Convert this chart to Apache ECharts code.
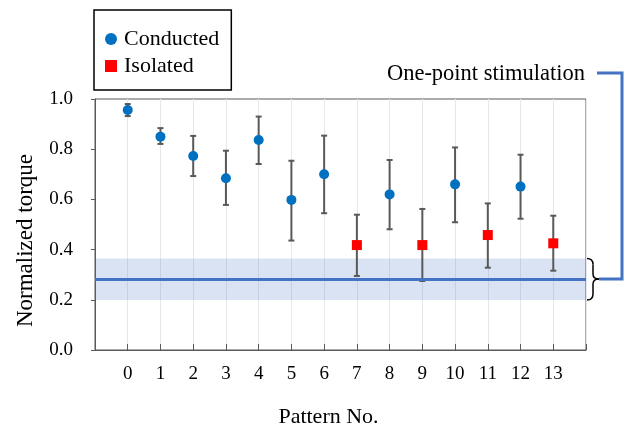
<!DOCTYPE html>
<html><head><meta charset="utf-8">
<script src="https://cdn.jsdelivr.net/npm/echarts@6/dist/echarts.min.js"></script>
<style>html,body{margin:0;padding:0;background:#fff}#c{width:627px;height:428px}</style>
</head><body><div id="c"></div>
<script>
var patterns = [0,1,2,3,4,5,6,7,8,9,10,11,12,13];
var xTickLabels = ['0','1','2','3','4','5','6','7','8','9','10','11','12','13'];
var conductedX = [0,1,2,3,4,5,6,8,10,12];
var conductedMean = [0.956,0.850,0.773,0.684,0.837,0.598,0.700,0.620,0.660,0.651];
var conductedLow  = [0.932,0.821,0.693,0.578,0.741,0.436,0.545,0.481,0.509,0.523];
var conductedHigh = [0.980,0.884,0.853,0.794,0.930,0.754,0.854,0.757,0.807,0.778];
var isolatedX = [7,9,11,13];
var isolatedMean = [0.418,0.418,0.458,0.425];
var isolatedLow  = [0.295,0.275,0.328,0.316];
var isolatedHigh = [0.539,0.562,0.584,0.535];
var onePointMean = 0.283;
var onePointLow = 0.199;
var onePointHigh = 0.365;

var FONT = 'Liberation Serif';
var chart = echarts.init(document.getElementById('c'), null, {renderer:'canvas'});

var errData = [];
conductedX.forEach(function(x,i){ errData.push([x, conductedLow[i], conductedHigh[i]]); });
isolatedX.forEach(function(x,i){ errData.push([x, isolatedLow[i], isolatedHigh[i]]); });

var option = {
  animation:false,
  grid:{left:95, right:41, top:99, bottom:78, show:true, borderColor:'#595959', borderWidth:1,
        containLabel:false, outerBoundsMode:'none'},
  legend:{
    left:94, top:10, orient:'vertical',
    padding:[18,12,13,11], itemGap:5,
    borderColor:'#000', borderWidth:1.5,
    itemWidth:12, itemHeight:12,
    textStyle:{fontFamily:FONT, fontSize:22, color:'#000', padding:[0,0,0,2]},
    data:[{name:'Conducted', icon:'circle'},{name:'Isolated', icon:'rect'}]
  },
  xAxis:{
    type:'value', min:-1, max:14, interval:1,
    name:'Pattern No.', nameLocation:'middle', nameGap:56,
    nameTextStyle:{fontFamily:FONT, fontSize:22, color:'#000', padding:[0,24,0,0]},
    axisLine:{show:true, onZero:false, lineStyle:{color:'#595959', width:1}},
    axisTick:{show:true, inside:true, length:6, lineStyle:{color:'#595959'}},
    axisLabel:{fontFamily:FONT, fontSize:19, color:'#000', margin:15,
      formatter:function(v){ var i = patterns.indexOf(v); return i>=0 ? xTickLabels[i] : ''; }},
    splitLine:{show:true, lineStyle:{color:'#e6e6ec', width:1}}
  },
  yAxis:{
    type:'value', min:0, max:1.0, interval:0.2,
    name:'Normalized torque', nameLocation:'middle', nameGap:58, nameRotate:90,
    nameTextStyle:{fontFamily:FONT, fontSize:23, color:'#000', padding:[0,32,0,0]},
    axisLine:{show:true, onZero:false, lineStyle:{color:'#595959', width:1}},
    axisTick:{show:true, inside:false, length:4, lineStyle:{color:'#595959'}},
    axisLabel:{fontFamily:FONT, fontSize:19, color:'#000', margin:22,
      formatter:function(v){ return v.toFixed(1); }},
    splitLine:{show:false}
  },
  series:[
    {
      type:'line', data:[], silent:true, z:1,
      markArea:{silent:true, itemStyle:{color:'rgba(68,114,196,0.2)'},
        data:[[{yAxis:onePointLow},{yAxis:onePointHigh}]]},
      markLine:{silent:true, symbol:['none','none'], label:{show:false},
        lineStyle:{color:'#4472C4', width:3, type:'solid'},
        data:[{yAxis:onePointMean}]}
    },
    {
      type:'custom', z:3, silent:true,
      data: errData,
      renderItem:function(params, api){
        var p1 = api.coord([api.value(0), api.value(1)]);
        var p2 = api.coord([api.value(0), api.value(2)]);
        var cw = 3;
        var st = {stroke:'#595959', lineWidth:2};
        return {type:'group', children:[
          {type:'line', shape:{x1:p1[0],y1:p1[1],x2:p2[0],y2:p2[1]}, style:st},
          {type:'line', shape:{x1:p1[0]-cw,y1:p1[1],x2:p1[0]+cw,y2:p1[1]}, style:st},
          {type:'line', shape:{x1:p2[0]-cw,y1:p2[1],x2:p2[0]+cw,y2:p2[1]}, style:st}
        ]};
      }
    },
    {
      name:'Conducted', type:'scatter', z:5, symbol:'circle', symbolSize:10,
      itemStyle:{color:'#0070C0', opacity:1},
      data: conductedX.map(function(x,i){ return [x, conductedMean[i]]; })
    },
    {
      name:'Isolated', type:'scatter', z:5, symbol:'rect', symbolSize:10,
      itemStyle:{color:'#FF0000', opacity:1},
      data: isolatedX.map(function(x,i){ return [x, isolatedMean[i]]; })
    }
  ]
};
chart.setOption(option);

// annotation: brace + connector to label, positioned from the band values
var pt = chart.convertToPixel({gridIndex:0}, [14, onePointHigh]);
var pb = chart.convertToPixel({gridIndex:0}, [14, onePointLow]);
var pm = chart.convertToPixel({gridIndex:0}, [14, onePointMean]);
var bx = pt[0] + 1, bt = pt[1], bb = pb[1], bm = pm[1];
var w = 12, h = w/2;
var bs = {fill:null, stroke:'#000', lineWidth:1.5};
var labelY = 73;
var cx = bx + w;
var rx = 622;
chart.setOption({
  graphic:[
    {type:'bezierCurve', shape:{x1:bx,y1:bt,cpx1:bx+h,cpy1:bt,x2:bx+h,y2:bt+6}, style:bs, z:10},
    {type:'line', shape:{x1:bx+h,y1:bt+6,x2:bx+h,y2:bm-5}, style:bs, z:10},
    {type:'bezierCurve', shape:{x1:bx+h,y1:bm-5,cpx1:bx+h,cpy1:bm,x2:bx+w,y2:bm}, style:bs, z:10},
    {type:'bezierCurve', shape:{x1:bx+w,y1:bm,cpx1:bx+h,cpy1:bm,x2:bx+h,y2:bm+5}, style:bs, z:10},
    {type:'line', shape:{x1:bx+h,y1:bm+5,x2:bx+h,y2:bb-6}, style:bs, z:10},
    {type:'bezierCurve', shape:{x1:bx+h,y1:bb-6,cpx1:bx+h,cpy1:bb,x2:bx,y2:bb}, style:bs, z:10},
    {type:'polyline', shape:{points:[[cx,bm],[rx,bm],[rx,labelY],[597,labelY]]},
      style:{fill:null, stroke:'#4472C4', lineWidth:3}, z:10},
    {type:'text', right:42, top:labelY-10,
      style:{text:'One-point stimulation', font:'22.5px "Liberation Serif"', fill:'#000'}, z:10}
  ]
});
</script></body></html>
